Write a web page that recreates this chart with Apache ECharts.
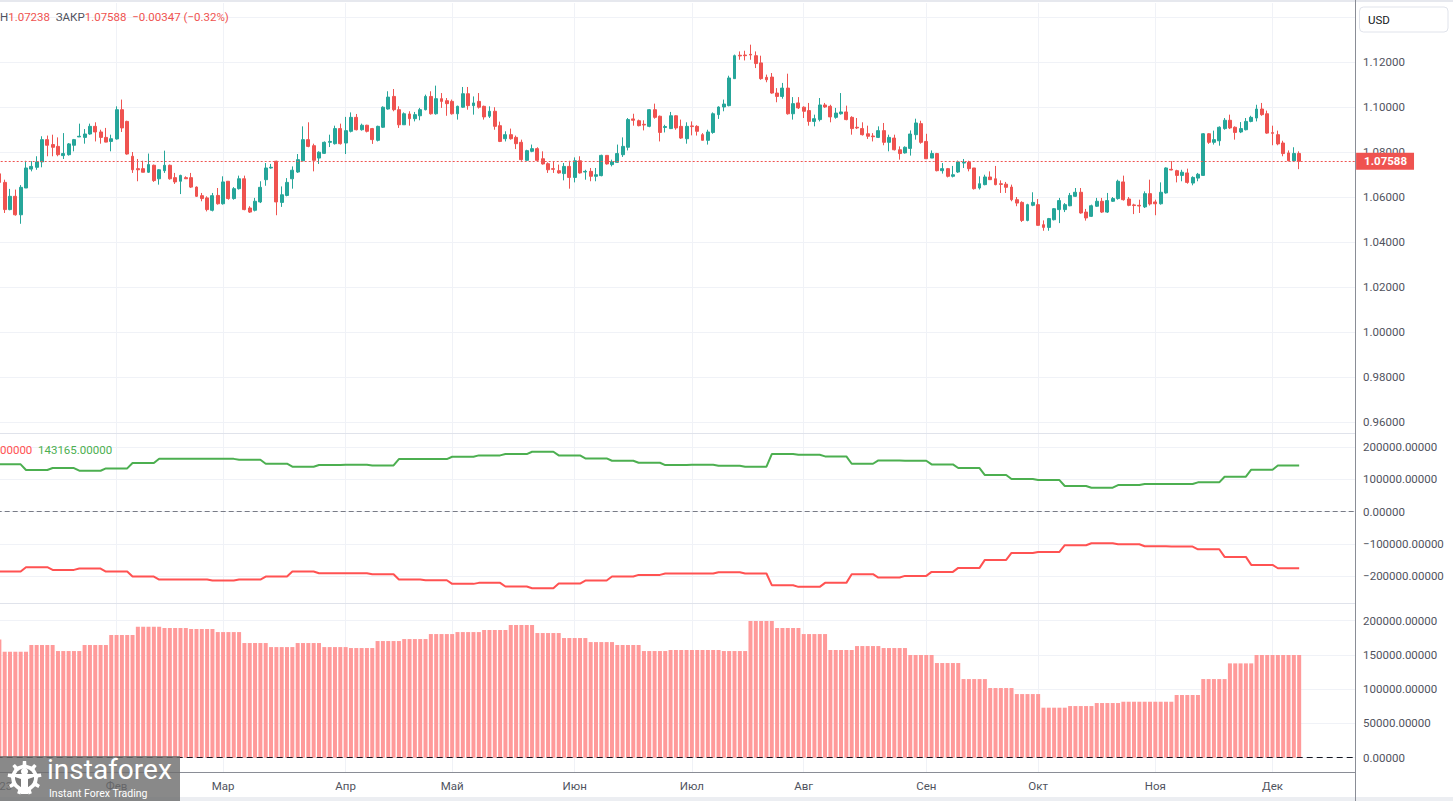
<!DOCTYPE html>
<html><head><meta charset="utf-8">
<script src="https://cdn.jsdelivr.net/npm/echarts@6/dist/echarts.min.js"></script>
<style>html,body{margin:0;padding:0;background:#fff;overflow:hidden}#chart{width:1453px;height:801px}</style>
</head><body><div id="chart"></div>
<script>
// ---------- DATA ----------
// daily candles [open, close, low, high], first bar = 2023-01-02, weekdays only
const candles = [
[1.0703,1.0665,1.0652,1.0713],[1.0665,1.0544,1.0529,1.0677],[1.0544,1.0603,1.0541,1.0636],[1.0603,1.0521,1.0517,1.0633],[1.0521,1.0643,1.0481,1.0653],
[1.0640,1.0729,1.0640,1.0761],[1.0724,1.0736,1.0714,1.0759],[1.0732,1.0756,1.0721,1.0781],[1.0756,1.0855,1.0732,1.0870],[1.0855,1.0830,1.0781,1.0873],
[1.0833,1.0821,1.0781,1.0877],[1.0825,1.0788,1.0781,1.0865],[1.0784,1.0793,1.0769,1.0884],[1.0788,1.0836,1.0784,1.0840],[1.0830,1.0855,1.0803,1.0858],
[1.0867,1.0870,1.0867,1.0926],[1.0865,1.0880,1.0837,1.0902],[1.0880,1.0914,1.0877,1.0926],[1.0914,1.0889,1.0847,1.0932],[1.0889,1.0865,1.0837,1.0899],
[1.0865,1.0844,1.0843,1.0907],[1.0847,1.0859,1.0803,1.0877],[1.0858,1.0988,1.0855,1.1003],[1.0988,1.0907,1.0889,1.1033],[1.0936,1.0791,1.0788,1.0939],
[1.0781,1.0721,1.0707,1.0800],[1.0726,1.0721,1.0670,1.0769],[1.0726,1.0710,1.0710,1.0761],[1.0710,1.0744,1.0707,1.0793],[1.0741,1.0673,1.0667,1.0744],
[1.0681,1.0721,1.0655,1.0724],[1.0717,1.0741,1.0707,1.0806],[1.0741,1.0681,1.0677,1.0744],[1.0686,1.0667,1.0658,1.0707],[1.0670,1.0696,1.0613,1.0699],
[1.0686,1.0681,1.0681,1.0692],[1.0686,1.0644,1.0640,1.0707],[1.0644,1.0603,1.0600,1.0647],[1.0606,1.0593,1.0581,1.0618],[1.0596,1.0544,1.0536,1.0603],
[1.0541,1.0606,1.0536,1.0618],[1.0607,1.0570,1.0566,1.0640],[1.0570,1.0667,1.0566,1.0692],[1.0670,1.0593,1.0588,1.0670],[1.0593,1.0637,1.0588,1.0644],
[1.0637,1.0681,1.0633,1.0695],[1.0681,1.0544,1.0541,1.0695],[1.0551,1.0533,1.0529,1.0559],[1.0541,1.0581,1.0536,1.0596],[1.0578,1.0643,1.0573,1.0670],
[1.0677,1.0729,1.0650,1.0751],[1.0729,1.0732,1.0726,1.0747],[1.0759,1.0578,1.0519,1.0761],[1.0576,1.0610,1.0556,1.0647],[1.0607,1.0665,1.0603,1.0684],
[1.0681,1.0719,1.0637,1.0736],[1.0711,1.0766,1.0707,1.0791],[1.0761,1.0855,1.0759,1.0914],[1.0855,1.0825,1.0821,1.0932],[1.0828,1.0763,1.0714,1.0837],
[1.0773,1.0799,1.0747,1.0803],[1.0794,1.0843,1.0791,1.0847],[1.0843,1.0847,1.0822,1.0877],[1.0837,1.0904,1.0833,1.0917],[1.0904,1.0837,1.0833,1.0926],
[1.0840,1.0895,1.0791,1.0956],[1.0892,1.0954,1.0887,1.0976],[1.0954,1.0899,1.0896,1.0969],[1.0899,1.0919,1.0895,1.0926],[1.0919,1.0892,1.0887,1.0921],
[1.0904,1.0855,1.0836,1.0907],[1.0852,1.0914,1.0847,1.0917],[1.0910,1.0999,1.0907,1.1003],[1.0991,1.1044,1.0988,1.1070],[1.1047,1.0988,1.0981,1.1080],
[1.0988,1.0921,1.0907,1.1003],[1.0921,1.0970,1.0921,1.0976],[1.0969,1.0948,1.0917,1.0981],[1.0948,1.0966,1.0936,1.0978],[1.0961,1.0988,1.0941,1.0996],
[1.0988,1.1047,1.0985,1.1055],[1.1047,1.0970,1.0966,1.1070],[1.0970,1.1037,1.0966,1.1095],[1.1037,1.1025,1.0996,1.1062],[1.1028,1.1015,1.0961,1.1040],
[1.1025,1.0970,1.0966,1.1033],[1.0970,1.1003,1.0944,1.1006],[1.0999,1.1059,1.0996,1.1089],[1.1059,1.1006,1.0988,1.1089],[1.1006,1.1018,1.0966,1.1047],
[1.1025,1.0999,1.0993,1.1062],[1.1003,1.0956,1.0944,1.1006],[1.0959,1.0981,1.0951,1.1003],[1.0981,1.0914,1.0899,1.0999],[1.0917,1.0847,1.0844,1.0935],
[1.0859,1.0877,1.0847,1.0892],[1.0877,1.0859,1.0855,1.0904],[1.0865,1.0837,1.0813,1.0873],[1.0843,1.0766,1.0761,1.0855],[1.0763,1.0806,1.0761,1.0810],
[1.0803,1.0815,1.0799,1.0833],[1.0815,1.0763,1.0759,1.0821],[1.0770,1.0747,1.0744,1.0803],[1.0748,1.0721,1.0707,1.0754],[1.0726,1.0723,1.0707,1.0759],
[1.0717,1.0707,1.0704,1.0744],[1.0704,1.0736,1.0674,1.0751],[1.0736,1.0687,1.0637,1.0761],[1.0687,1.0761,1.0665,1.0776],[1.0761,1.0707,1.0704,1.0781],
[1.0711,1.0714,1.0677,1.0721],[1.0714,1.0692,1.0670,1.0729],[1.0692,1.0699,1.0670,1.0729],[1.0695,1.0785,1.0692,1.0788],[1.0785,1.0747,1.0744,1.0785],
[1.0744,1.0756,1.0736,1.0766],[1.0754,1.0793,1.0751,1.0833],[1.0788,1.0825,1.0778,1.0865],[1.0821,1.0944,1.0807,1.0951],[1.0947,1.0941,1.0917,1.0970],
[1.0939,1.0917,1.0914,1.0944],[1.0923,1.0920,1.0896,1.0941],[1.0914,1.0988,1.0910,1.0991],[1.0988,1.0954,1.0948,1.1015],[1.0959,1.0887,1.0847,1.0962],
[1.0909,1.0913,1.0887,1.0921],[1.0904,1.0961,1.0902,1.0978],[1.0961,1.0907,1.0899,1.0963],[1.0914,1.0862,1.0858,1.0944],[1.0859,1.0914,1.0837,1.0932],
[1.0916,1.0913,1.0874,1.0936],[1.0914,1.0892,1.0873,1.0919],[1.0877,1.0852,1.0852,1.0884],[1.0852,1.0889,1.0833,1.0899],[1.0887,1.0970,1.0881,1.0976],
[1.0966,1.1000,1.0947,1.1003],[1.1000,1.1013,1.0981,1.1033],[1.1006,1.1129,1.1003,1.1139],[1.1126,1.1228,1.1126,1.1233],[1.1230,1.1227,1.1210,1.1247],
[1.1231,1.1228,1.1207,1.1250],[1.1234,1.1231,1.1210,1.1277],[1.1228,1.1193,1.1173,1.1247],[1.1196,1.1126,1.1121,1.1228],[1.1132,1.1121,1.1110,1.1144],
[1.1133,1.1062,1.1059,1.1151],[1.1062,1.1047,1.1021,1.1084],[1.1047,1.1084,1.1037,1.1107],[1.1084,1.0970,1.0966,1.1148],[1.0970,1.1015,1.0944,1.1044],
[1.1018,1.0996,1.0991,1.1044],[1.0999,1.0981,1.0951,1.1003],[1.0984,1.0936,1.0917,1.1018],[1.0936,1.0948,1.0914,1.0966],[1.0944,1.1009,1.0936,1.1040],
[1.1009,1.1000,1.0996,1.1018],[1.1003,1.0956,1.0932,1.1010],[1.0954,1.0973,1.0948,1.0996],[1.0970,1.0978,1.0966,1.1062],[1.0978,1.0944,1.0941,1.1006],
[1.0954,1.0904,1.0877,1.0959],[1.0910,1.0907,1.0902,1.0951],[1.0904,1.0877,1.0873,1.0932],[1.0881,1.0870,1.0858,1.0917],[1.0871,1.0868,1.0847,1.0884],
[1.0865,1.0895,1.0862,1.0914],[1.0895,1.0843,1.0830,1.0929],[1.0843,1.0865,1.0803,1.0877],[1.0862,1.0810,1.0807,1.0877],[1.0810,1.0793,1.0766,1.0825],
[1.0796,1.0821,1.0793,1.0825],[1.0816,1.0880,1.0784,1.0896],[1.0877,1.0929,1.0855,1.0948],[1.0926,1.0843,1.0837,1.0939],[1.0847,1.0770,1.0770,1.0881],
[1.0773,1.0793,1.0773,1.0807],[1.0793,1.0717,1.0714,1.0796],[1.0717,1.0726,1.0704,1.0751],[1.0726,1.0692,1.0687,1.0729],[1.0692,1.0699,1.0687,1.0738],
[1.0711,1.0756,1.0707,1.0762],[1.0751,1.0754,1.0729,1.0769],[1.0754,1.0726,1.0714,1.0761],[1.0729,1.0637,1.0633,1.0729],[1.0640,1.0659,1.0633,1.0692],
[1.0655,1.0689,1.0652,1.0699],[1.0689,1.0677,1.0677,1.0714],[1.0681,1.0655,1.0652,1.0738],[1.0659,1.0656,1.0618,1.0674],[1.0657,1.0643,1.0618,1.0667],
[1.0644,1.0588,1.0581,1.0655],[1.0588,1.0573,1.0559,1.0600],[1.0576,1.0496,1.0489,1.0581],[1.0496,1.0566,1.0492,1.0570],[1.0563,1.0576,1.0559,1.0621],
[1.0566,1.0474,1.0473,1.0591],[1.0477,1.0465,1.0450,1.0496],[1.0465,1.0504,1.0450,1.0507],[1.0499,1.0548,1.0496,1.0551],[1.0544,1.0584,1.0484,1.0596],
[1.0544,1.0566,1.0533,1.0573],[1.0561,1.0607,1.0559,1.0618],[1.0603,1.0621,1.0600,1.0640],[1.0621,1.0529,1.0526,1.0640],[1.0533,1.0507,1.0495,1.0547],
[1.0514,1.0561,1.0511,1.0566],[1.0559,1.0581,1.0556,1.0596],[1.0581,1.0533,1.0529,1.0596],[1.0533,1.0584,1.0529,1.0618],[1.0581,1.0593,1.0578,1.0600],
[1.0593,1.0670,1.0588,1.0677],[1.0667,1.0588,1.0584,1.0695],[1.0591,1.0563,1.0559,1.0600],[1.0565,1.0562,1.0524,1.0570],[1.0563,1.0560,1.0529,1.0588],
[1.0556,1.0615,1.0551,1.0625],[1.0615,1.0569,1.0562,1.0677],[1.0578,1.0570,1.0519,1.0588],[1.0570,1.0621,1.0566,1.0665],[1.0618,1.0729,1.0615,1.0732],
[1.0723,1.0720,1.0719,1.0759],[1.0717,1.0696,1.0665,1.0721],[1.0696,1.0710,1.0670,1.0721],[1.0707,1.0665,1.0659,1.0726],[1.0662,1.0687,1.0652,1.0692],
[1.0684,1.0701,1.0670,1.0707],[1.0696,1.0881,1.0695,1.0884],[1.0881,1.0843,1.0836,1.0884],[1.0843,1.0855,1.0833,1.0895],[1.0850,1.0910,1.0828,1.0914],
[1.0904,1.0941,1.0899,1.0951],[1.0941,1.0907,1.0902,1.0966],[1.0910,1.0887,1.0855,1.0914],[1.0889,1.0904,1.0884,1.0933],[1.0899,1.0936,1.0896,1.0951],
[1.0936,1.0954,1.0932,1.0961],[1.0951,1.0991,1.0936,1.1010],[1.0991,1.0966,1.0961,1.1018],[1.0970,1.0884,1.0881,1.0984],[1.0886,1.0883,1.0830,1.0917],
[1.0877,1.0836,1.0830,1.0895],[1.0840,1.0793,1.0781,1.0850],[1.0796,1.0761,1.0759,1.0807],[1.0761,1.07935,1.0756,1.0821],[1.07935,1.07588,1.07238,1.0803]
];
// weekly values (a week = 5 trading days starting at bar 0) for the two position lines
const longWeekly = [147000,129300,135500,127200,134400,151000,164400,164400,164000,161300,148900,139600,144800,145800,143700,163400,163400,170600,174800,178900,186100,174800,165500,158200,152000,144800,145800,142700,139600,178900,176800,171700,148900,159300,158200,146800,135500,113800,101300,98200,79600,74500,82700,85800,85800,91000,108600,130300,143165];
const shortWeekly = [-186100,-172700,-181000,-176800,-186100,-201700,-211000,-211000,-214000,-211000,-201700,-186100,-191300,-191300,-194400,-211000,-213000,-224400,-221300,-232700,-237800,-223400,-214000,-201700,-196500,-192300,-192300,-188200,-192300,-228500,-233700,-221300,-194400,-204800,-199600,-187200,-174800,-149900,-128200,-125100,-104400,-98200,-101300,-107500,-108600,-116900,-140600,-165500,-175800];
// histogram: first bar alone, then weekly values (weeks starting at bar 1)
const histFirst = 172700;
const histWeekly = [154700,164500,155700,164500,179100,191200,189300,187800,183400,167400,161500,167400,161500,160100,170300,173200,180500,183400,186400,193700,182000,174700,168800,164500,155700,157200,157200,155700,199500,189300,180500,157200,163000,160100,149900,138200,114800,101700,92900,73000,75400,79800,81700,81700,91500,114800,137700,149900,149900];
const monthNames = ['2023','Фев','Мар','Апр','Май','Июн','Июл','Авг','Сен','Окт','Ноя','Дек'];
const priceAxis = {min:0.96, max:1.14, step:0.02};
const posAxis = {min:-300000, max:300000, step:100000};
const histAxis = {min:0, max:200000, step:50000};

// ---------- BUILD ----------
const dates = [];
{ const d = new Date(Date.UTC(2023,0,2));
  while (dates.length < candles.length) { const w = d.getUTCDay(); if (w!==0 && w!==6) dates.push(d.toISOString().slice(0,10)); d.setUTCDate(d.getUTCDate()+1); } }
const categories = dates.concat(Array.from({length:10},(_, k)=>'pad'+k));
const monthStart = {};
dates.forEach((s,i)=>{ if (i===0 || s.slice(5,7)!==dates[i-1].slice(5,7)) monthStart[i] = monthNames[+s.slice(5,7)-1]; });
const longDaily = dates.map((_,i)=>longWeekly[Math.floor(i/5)]);
const shortDaily = dates.map((_,i)=>shortWeekly[Math.floor(i/5)]);
const histDaily = dates.map((_,i)=> i===0 ? histFirst : histWeekly[Math.floor((i-1)/5)]);
const last = candles[candles.length-1], prev = candles[candles.length-2];
const lastClose = last[1], lastLow = last[2];
const chg = lastClose - prev[1];
const minus = v => (v<0?'\u2212':'') ;
const chgText = minus(chg) + Math.abs(chg).toFixed(5) + ' (' + minus(chg) + Math.abs(chg/prev[1]*100).toFixed(2) + '%)';

const FONT = 'Roboto';
const GRID = '#f0f2f7', LBL = '#50535e', UP = '#26a69a', DN = '#ef5350';
const L = -3.3, R = 97.9;
const numFmt = v => minus(v) + Math.abs(v).toFixed(5);
const hideAxis = idx => ({type:'category', gridIndex:idx, data:categories, show:false});
const valAxis = (idx, a, extra) => Object.assign({
  type:'value', gridIndex:idx, position:'right', min:a.min, max:a.max, interval:a.step,
  axisLine:{show:false}, axisTick:{show:false},
  axisLabel:{color:LBL, fontSize:11.5, fontFamily:FONT, margin:8, formatter:numFmt},
  splitLine:{show:true, lineStyle:{color:GRID, width:1}}
}, extra||{});
const gridBox = (top, h) => Object.assign({left:L, right:R, top:top, outerBoundsMode:'none', containLabel:false}, h);

// gear points for logo
function gear(cx, cy, ro, ri, n){
  const p=[], s=Math.PI*2/n;
  for(let t=0;t<n;t++){ const a=t*s-Math.PI/2;
    p.push([cx+ri*Math.cos(a-s*0.2), cy+ri*Math.sin(a-s*0.2)]);
    p.push([cx+ro*Math.cos(a-s*0.14), cy+ro*Math.sin(a-s*0.14)]);
    p.push([cx+ro*Math.cos(a+s*0.14), cy+ro*Math.sin(a+s*0.14)]);
    p.push([cx+ri*Math.cos(a+s*0.2), cy+ri*Math.sin(a+s*0.2)]); }
  return p;
}

const chart = echarts.init(document.getElementById('chart'), null, {renderer:'svg'});
chart.setOption({
  animation:false,
  backgroundColor:'#ffffff',
  textStyle:{fontFamily:FONT},
  grid:[
    gridBox(3, {bottom:29}),
    gridBox(17, {height:405}),
    gridBox(415.1, {height:193.1}),
    gridBox(620.7, {height:137})
  ],
  xAxis:[
    {type:'category', gridIndex:0, data:categories, boundaryGap:true,
     axisLine:{show:true, lineStyle:{color:'#8a8d96', width:1}}, axisTick:{show:false},
     axisLabel:{interval:(i)=>monthStart[i]!==undefined, formatter:(v,i)=>monthStart[i]||'', color:LBL, fontSize:11.5, fontFamily:FONT, margin:8, hideOverlap:false},
     splitLine:{show:true, interval:(i)=>monthStart[i]!==undefined, alignWithLabel:true, lineStyle:{color:GRID, width:1}}},
    hideAxis(1), hideAxis(2), hideAxis(3)
  ],
  yAxis:[
    {type:'value', gridIndex:0, show:false},
    valAxis(1, priceAxis, {axisLabel:{color:LBL, fontSize:11.5, fontFamily:FONT, margin:8, showMaxLabel:false, formatter:v=>v.toFixed(5)}}),
    valAxis(2, posAxis, {axisLabel:{color:LBL, fontSize:11.5, fontFamily:FONT, margin:8, showMinLabel:false, showMaxLabel:false, formatter:numFmt},
                         splitLine:{show:true, showMinLine:false, showMaxLine:false, lineStyle:{color:GRID, width:1}}}),
    valAxis(3, histAxis)
  ],
  series:[
    {type:'candlestick', xAxisIndex:1, yAxisIndex:1, data:candles, barWidth:3.4, z:3,
     itemStyle:{color:UP, color0:DN, borderColor:UP, borderColor0:DN, borderWidth:1},
     markLine:{silent:true, symbol:['none','none'], animation:false, precision:5,
       lineStyle:{color:DN, type:[2,2], width:1},
       label:{show:true, position:'end', distance:1, formatter:()=>lastClose.toFixed(5),
              backgroundColor:DN, color:'#ffffff', fontSize:11.5, fontFamily:FONT, fontWeight:'bold', lineHeight:13, padding:[2,7,2,8]},
       data:[{yAxis:lastClose}]}},
    {type:'line', name:'long', xAxisIndex:2, yAxisIndex:2, data:longDaily, showSymbol:false, z:3,
     lineStyle:{color:'#4caf50', width:2}, itemStyle:{color:'#4caf50'},
     markLine:{silent:true, symbol:['none','none'], label:{show:false}, precision:0,
       lineStyle:{color:'#787b86', type:[5,3], width:1}, data:[{yAxis:0}]}},
    {type:'line', name:'short', xAxisIndex:2, yAxisIndex:2, data:shortDaily, showSymbol:false, z:3,
     lineStyle:{color:'#ff5252', width:2}, itemStyle:{color:'#ff5252'}},
    {type:'bar', xAxisIndex:3, yAxisIndex:3, data:histDaily, barWidth:4, z:3,
     itemStyle:{color:'#ff9a9a'},
     markLine:{silent:true, symbol:['none','none'], label:{show:false}, precision:0,
       lineStyle:{color:'#131722', type:[6,4], width:1}, data:[{yAxis:0}]}}
  ],
  graphic:[
    {type:'rect', z:100, silent:true, shape:{x:0,y:0,width:1453,height:2}, style:{fill:'#e6e8ee'}},
    {type:'rect', z:100, silent:true, shape:{x:0,y:797,width:1453,height:4}, style:{fill:'#eceef2'}},
    {type:'line', z:100, silent:true, shape:{x1:0,y1:433.5,x2:1355,y2:433.5}, style:{stroke:'#e0e3eb', lineWidth:1}},
    {type:'line', z:100, silent:true, shape:{x1:0,y1:603.5,x2:1355,y2:603.5}, style:{stroke:'#e0e3eb', lineWidth:1}},
    {type:'line', z:100, silent:true, shape:{x1:1355.5,y1:0,x2:1355.5,y2:801}, style:{stroke:'#8a8d96', lineWidth:1}},
    {type:'rect', z:100, silent:true, shape:{x:1359.5,y:7,width:88.5,height:25,r:4}, style:{fill:'#ffffff', stroke:'#e0e3eb', lineWidth:1}},
    {type:'text', z:101, silent:true, style:{x:1368, y:19.5, text:'USD', fill:'#131722', fontSize:11.5, fontFamily:FONT, verticalAlign:'middle'}},
    // top legend
    {type:'text', z:101, silent:true, style:{x:0, y:16.5, verticalAlign:'middle', fontSize:11.5, fontFamily:FONT,
      text:'{g|Н}{r|'+lastLow.toFixed(5)+'}  {g|ЗАКР}{r|'+lastClose.toFixed(5)+'}  {r|'+chgText+'}',
      rich:{g:{fill:'#50535e', fontSize:11.5, fontFamily:FONT}, r:{fill:DN, fontSize:11.5, fontFamily:FONT}}}},
    // middle legend
    {type:'text', z:101, silent:true, style:{x:0, y:450, verticalAlign:'middle', fontSize:11.5, fontFamily:FONT,
      text:'{r|00000}  {g|'+longWeekly[longWeekly.length-1].toFixed(5)+'}',
      rich:{r:{fill:'#ff5252', fontSize:11.5, fontFamily:FONT}, g:{fill:'#4caf50', fontSize:11.5, fontFamily:FONT}}}},
    // logo
    {type:'rect', z:110, silent:true, shape:{x:0,y:756,width:180,height:45}, style:{fill:'rgba(107,107,107,0.8)'}},
    {type:'polygon', z:111, silent:true, shape:{points:gear(24.5,778,17,13.5,9)}, style:{fill:'#ffffff'}},
    {type:'circle', z:112, silent:true, shape:{cx:24.5,cy:778,r:9.5}, style:{fill:'#7a7a7a'}},
    {type:'circle', z:113, silent:true, shape:{cx:24.5,cy:771.5,r:3.6}, style:{fill:'#ffffff'}},
    {type:'polygon', z:113, silent:true, shape:{points:[[15,774],[34,774],[34,777],[28,779],[28,794],[21,794],[21,779],[15,777]]}, style:{fill:'#ffffff'}},
    {type:'text', z:113, silent:true, style:{x:47, y:783, text:'instaforex', fill:'#ffffff', fontSize:28, fontFamily:FONT, verticalAlign:'bottom'}},
    {type:'text', z:113, silent:true, style:{x:49, y:793, text:'Instant Forex Trading', fill:'#ffffff', fontSize:10.5, fontFamily:FONT, verticalAlign:'middle'}}
  ]
});
</script>
</body></html>
